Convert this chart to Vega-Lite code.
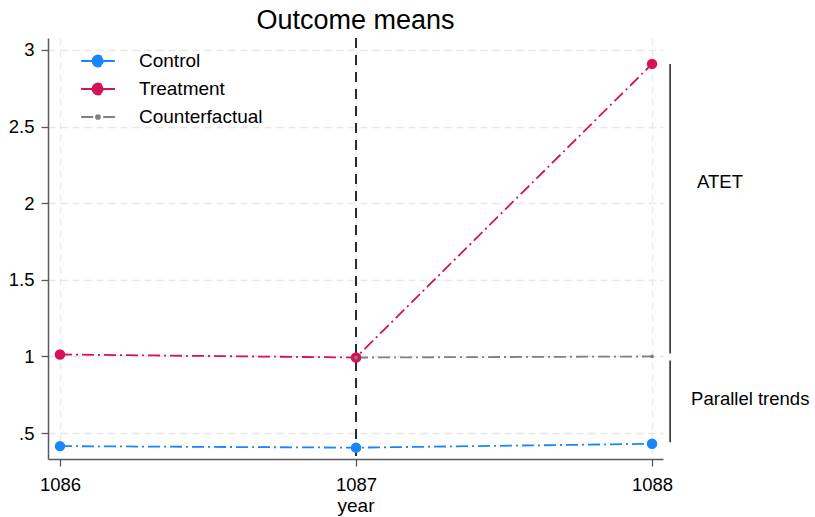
{
  "$schema": "https://vega.github.io/schema/vega-lite/v6.json",
  "autosize": "none",
  "width": 615,
  "height": 421,
  "padding": {"left": 48, "top": 38, "right": 152, "bottom": 58},
  "background": "white",
  "title": {"text": "Outcome means", "fontSize": 27, "font": "Liberation Sans", "fontWeight": "normal", "color": "black", "anchor": "middle", "offset": 2.25},
  "config": {
    "font": "Liberation Sans",
    "view": {"stroke": null},
    "axis": {
      "labelFont": "Liberation Sans", "labelFontSize": 18.5, "labelColor": "black", "labelOverlap": false, "labelFlush": false,
      "titleFont": "Liberation Sans", "titleFontSize": 19, "titleFontWeight": "normal", "titleColor": "black",
      "domainColor": "#5a5a5a", "domainWidth": 1.5, "tickColor": "#5a5a5a", "tickSize": 7, "tickWidth": 1.3,
      "gridColor": "#e8e8e8", "gridDash": [7, 5], "gridWidth": 1.3
    }
  },
  "datasets": {
    "means": [
      {"year": 1086, "value": 0.415, "series": "Control"},
      {"year": 1087, "value": 0.405, "series": "Control"},
      {"year": 1088, "value": 0.43, "series": "Control"},
      {"year": 1086, "value": 1.013, "series": "Treatment"},
      {"year": 1087, "value": 0.993, "series": "Treatment"},
      {"year": 1088, "value": 2.909, "series": "Treatment"},
      {"year": 1087, "value": 0.993, "series": "Counterfactual"},
      {"year": 1088, "value": 1.0, "series": "Counterfactual"}
    ],
    "brackets": [
      {"x": 1088.061, "y": 2.909, "y2": 1.02},
      {"x": 1088.061, "y": 0.974, "y2": 0.44}
    ],
    "labels": [
      {"x": 1088.152, "y": 2.14, "label": "ATET"},
      {"x": 1088.132, "y": 0.72, "label": "Parallel trends"}
    ],
    "treat": [{"year": 1087}]
  },
  "layer": [
    {
      "data": {"name": "treat"},
      "mark": {"type": "rule", "color": "#2a2a2a", "strokeWidth": 2, "strokeDash": [10, 7]},
      "encoding": {
        "x": {"field": "year", "type": "quantitative"}
      }
    },
    {
      "data": {"name": "means"},
      "mark": {"type": "line", "strokeWidth": 1.8, "strokeDash": [12, 4, 2, 4]},
      "encoding": {
        "x": {"field": "year", "type": "quantitative", "scale": {"domain": [1085.9595, 1088.037], "nice": false, "zero": false},
          "axis": {"values": [1086, 1087, 1088], "labelExpr": "format(datum.value, 'd')", "title": "year", "labelPadding": 9, "titlePadding": 3, "grid": true, "labelOverlap": false, "labelFlush": false}},
        "y": {"field": "value", "type": "quantitative", "scale": {"domain": [0.331, 3.078], "nice": false, "zero": false},
          "axis": {"values": [0.5, 1, 1.5, 2, 2.5, 3], "labelExpr": "datum.value == 0.5 ? '.5' : toString(datum.value)", "title": null, "labelPadding": 7, "grid": true}},
        "color": {"field": "series", "type": "nominal",
          "scale": {"domain": ["Control", "Treatment", "Counterfactual"], "range": ["#1a85ff", "#d41159", "#808080"]},
          "legend": {
            "title": null, "orient": "none", "legendX": 40.5, "legendY": 13.5, "padding": 0,
            "labelFont": "Liberation Sans", "labelFontSize": 19, "labelColor": "black", "labelOffset": 31.5,
            "rowPadding": 8, "symbolSize": 169, "symbolStrokeWidth": 1.8, "symbolDash": [12, 4, 2, 4],
            "symbolType": "M-2.6,0H2.6M-0.85,0A0.85,0.85 0 1,0 0.85,0A0.85,0.85 0 1,0 -0.85,0Z",
            "encode": {
              "symbols": {"update": {
                "shape": {"signal": "datum.value == 'Counterfactual' ? 'M-2.6,0H2.6M-0.3,0A0.3,0.3 0 1,0 0.3,0A0.3,0.3 0 1,0 -0.3,0Z' : 'M-2.6,0H2.6M-0.85,0A0.85,0.85 0 1,0 0.85,0A0.85,0.85 0 1,0 -0.85,0Z'"},
                "size": {"value": 169},
                "fill": {"scale": "color", "field": "value"},
                "stroke": {"scale": "color", "field": "value"},
                "opacity": {"value": 1}
              }}
            }
          }
        },
        "detail": {"field": "series"}
      }
    },
    {
      "data": {"name": "means"},
      "mark": {"type": "point", "filled": true, "opacity": 1},
      "encoding": {
        "x": {"field": "year", "type": "quantitative"},
        "y": {"field": "value", "type": "quantitative"},
        "color": {"field": "series", "type": "nominal", "legend": null},
        "size": {"condition": {"test": "datum.series == 'Counterfactual'", "value": 14}, "value": 110}
      }
    },
    {
      "data": {"name": "brackets"},
      "mark": {"type": "rule", "color": "#111111", "strokeWidth": 1.4, "clip": false},
      "encoding": {
        "x": {"field": "x", "type": "quantitative"},
        "y": {"field": "y", "type": "quantitative"},
        "y2": {"field": "y2"}
      }
    },
    {
      "data": {"name": "labels"},
      "mark": {"type": "text", "align": "left", "baseline": "middle", "fontSize": 18.5, "font": "Liberation Sans", "color": "black", "clip": false},
      "encoding": {
        "x": {"field": "x", "type": "quantitative"},
        "y": {"field": "y", "type": "quantitative"},
        "text": {"field": "label"}
      }
    }
  ]
}
